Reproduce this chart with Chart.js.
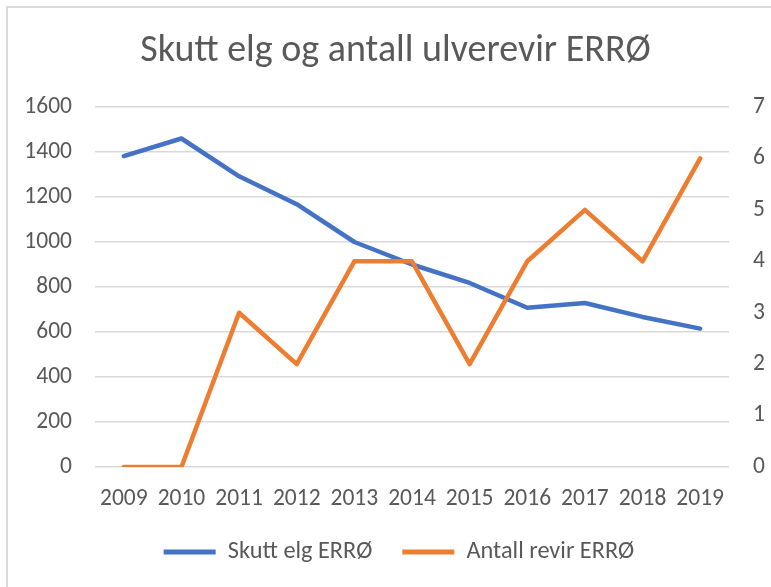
<!DOCTYPE html>
<html><head><meta charset="utf-8">
<script src="https://cdn.jsdelivr.net/npm/chart.js@4"></script>
<style>html,body{margin:0;padding:0;background:#fff;}</style>
</head><body>
<canvas id="c" width="771" height="587"></canvas>
<script>
const years = ['2009','2010','2011','2012','2013','2014','2015','2016','2017','2018','2019'];
const skuttElg = [1382,1460,1292,1168,1000,900,818,708,729,667,615];
const antallRevir = [0,0,3,2,4,4,2,4,5,4,6];
const seriesNames = ['Skutt elg ERRØ','Antall revir ERRØ'];
const titleText = 'Skutt elg og antall ulverevir ERRØ';

const BLUE = '#4472C4', ORANGE = '#ED7D31', TEXT = '#595959', GRID = '#D9D9D9';
const FAMILY = 'Carlito, Lato, sans-serif';
const TICK_SIZE = 23.5;
const LEGEND_SIZE = 24.3;

const framePlugin = {
  id: 'frame',
  beforeDraw(chart) {
    const ctx = chart.ctx;
    ctx.save();
    ctx.fillStyle = '#fff';
    ctx.fillRect(0, 0, chart.width, chart.height);
    ctx.strokeStyle = GRID;
    ctx.lineWidth = 2;
    ctx.beginPath();
    ctx.moveTo(7, chart.height);
    ctx.lineTo(7, 7);
    ctx.lineTo(chart.width, 7);
    ctx.stroke();
    ctx.restore();
  },
  afterLayout(chart) {
    if (chart.legend) { chart.legend.left = 20; chart.legend.right = 777.9; }
  }
};

new Chart(document.getElementById('c'), {
  type: 'line',
  data: {
    labels: years,
    datasets: [
      { label: seriesNames[0], data: skuttElg, yAxisID: 'y', borderColor: BLUE, backgroundColor: BLUE,
        borderWidth: 4.5, pointRadius: 0, borderCapStyle: 'round', borderJoinStyle: 'round', tension: 0, order: 1 },
      { label: seriesNames[1], data: antallRevir, yAxisID: 'y1', borderColor: ORANGE, backgroundColor: ORANGE,
        borderWidth: 4.5, pointRadius: 0, borderCapStyle: 'round', borderJoinStyle: 'round', tension: 0, order: 0 }
    ]
  },
  options: {
    responsive: false,
    animation: false,
    layout: { padding: { left: 20, right: 0, top: 0, bottom: 12.85 } },
    plugins: {
      title: { display: true, text: titleText, color: TEXT,
        font: { family: FAMILY, size: 38, weight: 'normal' }, padding: { top: 28.2, bottom: 33.2 } },
      legend: { position: 'bottom',
        labels: { color: TEXT, font: { family: FAMILY, size: LEGEND_SIZE }, boxWidth: 52, boxHeight: 5, padding: 30,
          generateLabels(chart) {
            return chart.data.datasets.map((d, i) => ({
              text: d.label, fillStyle: d.borderColor, strokeStyle: d.borderColor, lineWidth: 0,
              fontColor: TEXT, datasetIndex: i, hidden: false
            }));
          } } },
      tooltip: { enabled: false }
    },
    scales: {
      x: { type: 'category', offset: true, grid: { display: false, drawTicks: false }, border: { display: false },
        ticks: { color: TEXT, font: { family: FAMILY, size: TICK_SIZE }, padding: 18, maxRotation: 0, autoSkip: false },
        afterFit(s) { s.height = 42.85; } },
      y: { position: 'left', min: 0, max: 1600,
        ticks: { stepSize: 200, color: TEXT, font: { family: FAMILY, size: TICK_SIZE }, padding: 23,
          callback: v => String(v) },
        grid: { color: GRID, lineWidth: 1.5, drawTicks: false }, border: { display: false },
        afterFit(s) { s.width = 75; } },
      y1: { position: 'right', min: 0, max: 7,
        ticks: { stepSize: 1, color: TEXT, font: { family: FAMILY, size: TICK_SIZE }, padding: 24,
          callback: v => String(v) },
        grid: { display: false, drawTicks: false }, border: { display: false },
        afterFit(s) { s.width = 42; } }
    }
  },
  plugins: [framePlugin]
});
</script>
</body></html>
